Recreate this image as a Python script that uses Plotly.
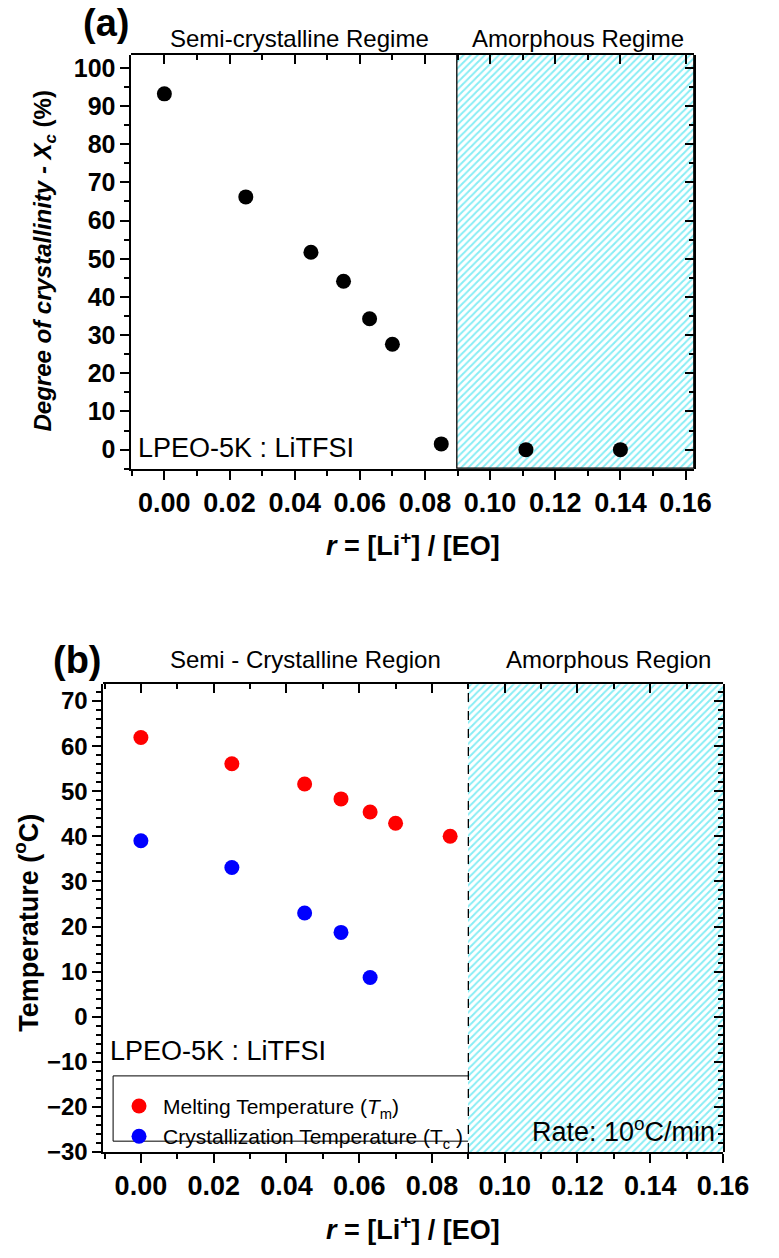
import plotly.graph_objects as go

# ---------------- data ----------------
# Panel (a): degree of crystallinity vs r
r_a = [0.0, 0.025, 0.045, 0.055, 0.063, 0.070, 0.085, 0.111, 0.140]
xc_a = [93.2, 66.2, 51.7, 44.1, 34.3, 27.6, 1.5, 0.0, 0.0]

# Panel (b): melting / crystallization temperatures vs r
r_tm = [0.0, 0.025, 0.045, 0.055, 0.063, 0.070, 0.085]
tm = [61.9, 56.1, 51.6, 48.3, 45.4, 42.9, 40.0]
r_tc = [0.0, 0.025, 0.045, 0.055, 0.063]
tc = [39.0, 33.1, 23.0, 18.7, 8.7]

amorph_start = 0.09
x_ticks = [0.00, 0.02, 0.04, 0.06, 0.08, 0.10, 0.12, 0.14, 0.16]
x_tick_text = ["0.00", "0.02", "0.04", "0.06", "0.08", "0.10", "0.12", "0.14", "0.16"]
ya_ticks = list(range(0, 101, 10))
yb_ticks = list(range(-30, 71, 10))

# ---------------- style ----------------
W, H = 779, 1258
FONT = "Liberation Sans, Arial, sans-serif"
HATCH = "#12dbea"

xa_rng = [-0.0101, 0.1626]
ya_rng = [-5, 103.4]
xb_rng = [-0.0103, 0.1600]
yb_rng = [-30, 73.7]

dom_a_x = [136 / W, 718 / W]
dom_a_y = [1 - 473 / H, 1 - 54.5 / H]
dom_b_x = [107 / W, 748 / W]
dom_b_y = [1 - 1164 / H, 1 - 691 / H]

fig = go.Figure()


def hatch(xr, yr, xa, ya, lw):
    fig.add_trace(go.Bar(
        x=[(amorph_start + xr[1]) / 2], y=[yr[1] - yr[0]], base=[yr[0]],
        width=[xr[1] - amorph_start],
        marker=dict(color="white",
                    pattern=dict(shape="/", fgcolor=HATCH, bgcolor="white",
                                 size=5, solidity=0.4),
                    line=dict(color="black", width=lw)),
        xaxis=xa, yaxis=ya, showlegend=False, hoverinfo="skip"))


hatch(xa_rng, ya_rng, "x", "y", 1.3)
hatch(xb_rng, yb_rng, "x2", "y2", 0)

fig.add_trace(go.Scatter(x=r_a, y=xc_a, mode="markers",
                         marker=dict(color="black", size=15),
                         xaxis="x", yaxis="y", showlegend=False))
fig.add_trace(go.Scatter(x=r_tm, y=tm, mode="markers",
                         marker=dict(color="#ff0000", size=15),
                         name="Melting Temperature (<i>T</i><sub>m</sub>)",
                         xaxis="x2", yaxis="y2"))
fig.add_trace(go.Scatter(x=r_tc, y=tc, mode="markers",
                         marker=dict(color="#0000ff", size=15),
                         name="Crystallization Temperature (T<sub>c</sub> )",
                         xaxis="x2", yaxis="y2"))

# invisible traces so that the mirror (inside-tick) axes are drawn
for xa, ya in [("x3", "y5"), ("x5", "y3"), ("x4", "y6"), ("x6", "y4")]:
    fig.add_trace(go.Scatter(x=[0.05], y=[20], xaxis=xa, yaxis=ya, mode="markers",
                             marker=dict(opacity=0, size=1), showlegend=False,
                             hoverinfo="skip"))

tickfont_x = dict(family=FONT, size=27, color="black", weight="bold")
tickfont_y = dict(family=FONT, size=25, color="black", weight="bold")
tickfont_yb = dict(family=FONT, size=24, color="black", weight="bold")


def minor(d, side):
    return dict(dtick=d, tick0=0, ticks=side, ticklen=5, tickcolor="black", tickwidth=1.8)


base_ax = dict(showline=True, linecolor="black", linewidth=2, showgrid=False,
               zeroline=False, ticklen=9, tickwidth=2, tickcolor="black")

fig.update_layout(
    width=W, height=H, margin=dict(l=0, r=0, t=0, b=0),
    paper_bgcolor="white", plot_bgcolor="rgba(0,0,0,0)",
    barmode="overlay", bargap=0,
    xaxis=dict(**base_ax, ticks="outside", domain=dom_a_x, anchor="y", range=xa_rng,
               tickvals=x_ticks, ticktext=x_tick_text, tickfont=tickfont_x,
               minor=minor(0.01, "outside")),
    yaxis=dict(**base_ax, ticks="outside", domain=dom_a_y, anchor="x", range=ya_rng,
               tickvals=ya_ticks, tickfont=tickfont_y, minor=minor(5, "outside")),
    xaxis2=dict(**base_ax, ticks="outside", domain=dom_b_x, anchor="y2", range=xb_rng,
                tickvals=x_ticks, ticktext=x_tick_text, tickfont=tickfont_x,
                minor=minor(0.01, "outside")),
    yaxis2=dict(**base_ax, ticks="outside", domain=dom_b_y, anchor="x2", range=yb_rng,
                tickvals=yb_ticks, tickfont=tickfont_yb, minor=minor(2, "outside")),
    # separate axes sharing the panel rectangles: inside ticks on top / right
    xaxis3=dict(**base_ax, ticks="inside", domain=dom_a_x, anchor="y5", side="top",
                range=xa_rng, tickvals=x_ticks, showticklabels=False,
                minor=minor(0.01, "inside")),
    yaxis5=dict(domain=dom_a_y, anchor="x3", range=ya_rng, visible=False),
    yaxis3=dict(**base_ax, ticks="inside", domain=dom_a_y, anchor="x5", side="right",
                range=ya_rng, tickvals=ya_ticks, showticklabels=False,
                minor=minor(5, "inside")),
    xaxis5=dict(domain=dom_a_x, anchor="y3", range=xa_rng, visible=False),
    xaxis4=dict(**base_ax, ticks="inside", domain=dom_b_x, anchor="y6", side="top",
                range=xb_rng, tickvals=x_ticks, showticklabels=False,
                minor=minor(0.01, "inside")),
    yaxis6=dict(domain=dom_b_y, anchor="x4", range=yb_rng, visible=False),
    yaxis4=dict(**base_ax, ticks="inside", domain=dom_b_y, anchor="x6", side="right",
                range=yb_rng, tickvals=yb_ticks, showticklabels=False,
                minor=minor(2, "inside")),
    xaxis6=dict(domain=dom_b_x, anchor="y4", range=xb_rng, visible=False),
    legend=dict(x=119 / W, y=1 - 1097 / H, xanchor="left", yanchor="top",
                bgcolor="rgba(0,0,0,0)", borderwidth=0,
                font=dict(family=FONT, size=21, color="black"),
                itemwidth=38, tracegroupgap=0),
    showlegend=True,
)

# dashed boundary line on panel (b)
fig.add_shape(type="line", xref="x2", yref="y2", x0=amorph_start, x1=amorph_start,
              y0=yb_rng[0], y1=yb_rng[1], line=dict(color="black", width=1.3, dash="dash"))
# legend box
fig.add_shape(type="rect", xref="paper", yref="paper",
              x0=117 / W, x1=485 / W, y0=1 - 1153 / H, y1=1 - 1087 / H,
              line=dict(color="black", width=1), fillcolor="white", layer="below")

ann = []


def txt(x, y, s, size, bold=False, xanchor="center", angle=0, yanchor="middle"):
    ann.append(dict(x=x / W, y=1 - y / H, xref="paper", yref="paper", text=s,
                    showarrow=False, xanchor=xanchor, yanchor=yanchor,
                    textangle=angle,
                    font=dict(family=FONT, size=size, color="black",
                              weight="bold" if bold else "normal")))


txt(110, 22, "(a)", 38, bold=True)
txt(310, 38, "Semi-crystalline Regime", 24)
txt(598, 38, "Amorphous Regime", 24)
txt(141, 452, "LPEO-5K : LiTFSI", 27, xanchor="left")
txt(46, 263, "<i>Degree of crystallinity - X<sub>c</sub></i> (%)", 24, bold=True, angle=-90)
txt(427, 549, "<i>r</i> = [Li<sup>+</sup>] / [EO]", 27, bold=True)

txt(80, 666, "(b)", 38, bold=True)
txt(316, 666, "Semi - Crystalline Region", 24)
txt(630, 666, "Amorphous Region", 24)
txt(112, 1062, "LPEO-5K : LiTFSI", 27, xanchor="left")
txt(742, 1142, "Rate: 10<sup>o</sup>C/min", 27, xanchor="right")
txt(27, 932, "Temperature (<sup>o</sup>C)", 27, bold=True, angle=-90)
txt(427, 1241, "<i>r</i> = [Li<sup>+</sup>] / [EO]", 27, bold=True)

fig.update_layout(annotations=ann)

fig.write_html("out.html")
